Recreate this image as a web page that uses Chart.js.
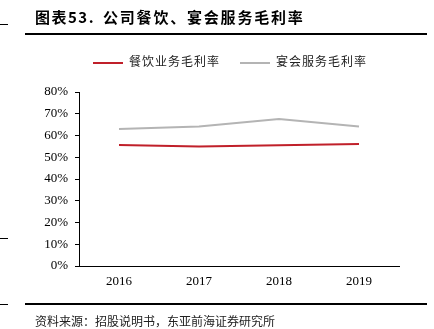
<!DOCTYPE html>
<html>
<head>
<meta charset="utf-8">
<script src="https://cdn.jsdelivr.net/npm/chart.js@4"></script>
<style>
  html, body { margin: 0; padding: 0; background: #fff; }
  #wrap { position: relative; width: 434px; height: 329px; overflow: hidden; }
  #chart { position: absolute; left: 0; top: 0; }
  .title { position: absolute; top: 6px; font: bold 15px "Noto Sans CJK SC", sans-serif; color: #000; white-space: nowrap; }
  .rule { position: absolute; height: 2px; background: #000; }
  .legend { position: absolute; top: 52px; font: 12px "Noto Sans CJK SC", sans-serif; letter-spacing: 1px; color: #222; white-space: nowrap; }
  .legend span.sw { display: inline-block; width: 30px; height: 2px; vertical-align: middle; margin-right: 6px; }
  .source { position: absolute; left: 35px; top: 312px; font: 12px "Noto Sans CJK SC", sans-serif; color: #222; white-space: nowrap; }
</style>
</head>
<body>
<div id="wrap">
  <canvas id="chart" width="434" height="329"></canvas>
  <div class="title" style="left:35px; letter-spacing:1.5px;">图表53.</div>
  <div class="title" style="left:103px; letter-spacing:1.8px;">公司餐饮、宴会服务毛利率</div>
  <div class="rule" style="left:25px; top:33px; width:402px;"></div>
  <div class="rule" style="left:0; top:24px; width:8px; height:1px;"></div>
  <div class="rule" style="left:0; top:238px; width:8px; height:1px;"></div>
  <div class="rule" style="left:0; top:304px; width:8px; height:1px;"></div>
  <div class="legend" style="left:93px;"><span class="sw" style="background:#C0202A"></span>餐饮业务毛利率</div>
  <div class="legend" style="left:240px;"><span class="sw" style="background:#B4B4B4"></span>宴会服务毛利率</div>
  <div class="rule" style="left:25px; top:303px; width:402px;"></div>
  <div class="source">资料来源：招股说明书，东亚前海证券研究所</div>
</div>
<script>
const categories = ['2016', '2017', '2018', '2019'];
const cateringMargin = [55.6, 54.9, 55.5, 56.1];
const banquetMargin = [63.0, 64.1, 67.6, 64.1];
const yTicks = [0, 10, 20, 30, 40, 50, 60, 70, 80];

const tickFont = {family: '"Liberation Serif", "Times New Roman", serif', size: 13};

new Chart(document.getElementById('chart'), {
  type: 'line',
  data: {
    labels: categories,
    datasets: [
      {label: '餐饮业务毛利率', data: cateringMargin, borderColor: '#C0202A', borderWidth: 2, pointRadius: 0, tension: 0},
      {label: '宴会服务毛利率', data: banquetMargin, borderColor: '#B4B4B4', borderWidth: 2, pointRadius: 0, tension: 0}
    ]
  },
  options: {
    responsive: false,
    animation: false,
    layout: {padding: {top: 92, left: 29, right: 35, bottom: 0}},
    plugins: {legend: {display: false}, tooltip: {enabled: false}},
    scales: {
      x: {
        offset: true,
        grid: {display: false, drawTicks: false},
        border: {display: true, color: '#000', width: 1},
        ticks: {font: tickFont, color: '#000', padding: 8, maxRotation: 0},
        afterFit: (scale) => { scale.height = 63; }
      },
      y: {
        min: 0,
        max: 80,
        afterBuildTicks: (scale) => { scale.ticks = yTicks.map(v => ({value: v})); },
        grid: {drawOnChartArea: false, tickLength: 4, color: '#000'},
        border: {display: true, color: '#000', width: 1},
        ticks: {font: tickFont, color: '#000', padding: 7, callback: (v) => v + '%'},
        afterFit: (scale) => { scale.width = 50; }
      }
    }
  }
});
</script>
</body>
</html>
